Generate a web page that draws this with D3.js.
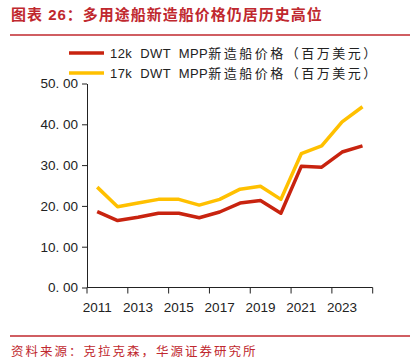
<!DOCTYPE html>
<html lang="zh">
<head>
<meta charset="utf-8">
<title>多用途船新造船价格</title>
<script src="https://d3js.org/d3.v7.min.js"></script>
<style>
  body { margin: 0; background: #fff; }
  text { font-family: "Liberation Sans", Arial, "Noto Sans CJK SC", sans-serif; }
</style>
</head>
<body>
<div id="vis"></div>
<script>
// data
const years = ["2011","2012","2013","2014","2015","2016","2017","2018","2019","2020","2021","2022","2023","2024"];
const price12k = [18.6, 16.4, 17.2, 18.2, 18.2, 17.1, 18.5, 20.7, 21.3, 18.2, 29.7, 29.5, 33.2, 34.7];
const price17k = [24.6, 19.8, 20.7, 21.6, 21.6, 20.2, 21.6, 24.1, 24.8, 21.6, 32.8, 34.7, 40.6, 44.3];
const yTicks = [0, 10, 20, 30, 40, 50];
const xLabels = ["2011","2013","2015","2017","2019","2021","2023"];
const seriesLatin = ["12k DWT MPP", "17k DWT MPP"];
const seriesCjk = "新造船价格（百万美元）";

const W = 417, H = 363;
const red = "#c0282e";
const svg = d3.select("#vis").append("svg")
  .attr("width", W).attr("height", H);

// title + rules
svg.append("text").attr("x", 11).attr("y", 20)
  .attr("fill", red).attr("font-size", 15).attr("font-weight", "bold")
  .attr("letter-spacing", 1.0)
  .text("图表 26：多用途船新造船价格仍居历史高位");
svg.append("line").attr("x1", 10).attr("x2", 410).attr("y1", 35).attr("y2", 35)
  .attr("stroke", red).attr("stroke-width", 1.3);
svg.append("line").attr("x1", 10).attr("x2", 410).attr("y1", 336).attr("y2", 336)
  .attr("stroke", red).attr("stroke-width", 1.3);
svg.append("text").attr("x", 11).attr("y", 356)
  .attr("fill", red).attr("font-size", 12.5).attr("letter-spacing", 2)
  .text("资料来源：克拉克森，华源证券研究所");

// scales
const x = d3.scaleBand().domain(years).range([87, 372.7]);
const y = d3.scaleLinear().domain([0, 50]).range([287.5, 83.5]);

// y axis
const yAxis = svg.append("g").attr("transform", "translate(87,0)")
  .call(d3.axisLeft(y).tickValues(yTicks).tickSize(5).tickSizeOuter(0)
    .tickFormat(d => d3.format(".2f")(d).replace(".", ". ")));
yAxis.selectAll("text").attr("font-size", 13.5).attr("fill", "#222").attr("x", -9)
  .style("white-space", "pre");
yAxis.selectAll("line, path").attr("stroke", "#222");

// x axis: ticks on every other band boundary, labels centred on band
const xg = svg.append("g").attr("transform", "translate(0,287.5)");
xg.append("line").attr("x1", 87).attr("x2", 372.7).attr("stroke", "#222");
const bounds = d3.range(0, years.length + 1, 2);
xg.selectAll("line.tk").data(bounds).join("line").attr("class", "tk")
  .attr("x1", i => x.range()[0] + i * x.step()).attr("x2", i => x.range()[0] + i * x.step())
  .attr("y1", 0).attr("y2", 6).attr("stroke", "#222");
xg.selectAll("text").data(xLabels).join("text")
  .attr("x", d => x(d) + x.bandwidth() / 2).attr("y", 24)
  .attr("text-anchor", "middle").attr("font-size", 13.5).attr("fill", "#222")
  .text(d => d);

// lines
const line = d3.line().x((d, i) => x(years[i]) + x.bandwidth() / 2).y(d => y(d));
const colors = ["#c8230f", "#ffc000"];
[price17k, price12k].forEach((s, k) => {
  svg.append("path").datum(s).attr("d", line)
    .attr("fill", "none").attr("stroke", colors[1 - k]).attr("stroke-width", 3.5)
    .attr("stroke-linejoin", "round");
});

// legend
const lg = svg.append("g");
seriesLatin.forEach((n, i) => {
  const ly = 53 + i * 20;
  lg.append("line").attr("x1", 69).attr("x2", 104).attr("y1", ly).attr("y2", ly)
    .attr("stroke", colors[i]).attr("stroke-width", 3.5);
  const t = lg.append("text").attr("x", 110).attr("y", ly + 5)
    .attr("font-size", 13).attr("fill", "#222");
  t.append("tspan").attr("letter-spacing", 0.4).attr("word-spacing", 4).text(n);
  t.append("tspan").attr("letter-spacing", 2.5).text(seriesCjk);
});
</script>
</body>
</html>
